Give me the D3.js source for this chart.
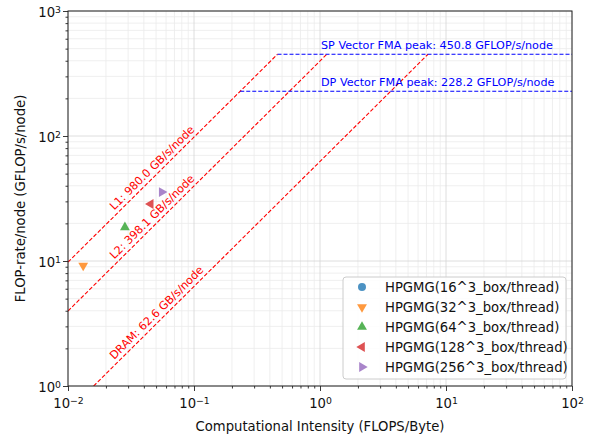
<!DOCTYPE html>
<html>
<head>
<meta charset="utf-8">
<script src="https://cdn.jsdelivr.net/npm/d3@7"></script>
<style>
body { margin: 0; background: #fff; }
text { font-family: "DejaVu Sans", sans-serif; }
</style>
</head>
<body>
<svg id="chart" width="595" height="438"></svg>
<script>
// data
var seriesNames = ["HPGMG(16^3_box/thread)", "HPGMG(32^3_box/thread)", "HPGMG(64^3_box/thread)",
                   "HPGMG(128^3_box/thread)", "HPGMG(256^3_box/thread)"];
var intensity = [null, 0.0132, 0.0283, 0.0453, 0.0555];
var flopRate  = [null, 9.2, 18.6, 28.6, 35.6];
var memNames = ["L1", "L2", "DRAM"];
var memBandwidth = [980.0, 398.1, 62.6];
var peakNames = ["SP Vector FMA", "DP Vector FMA"];
var peakRates = [450.8, 228.2];
var xTicks = [1e-2, 1e-1, 1e0, 1e1, 1e2];
var yTicks = [1e0, 1e1, 1e2, 1e3];

var colors = ["#1f77b4", "#ff7f0e", "#2ca02c", "#d62728", "#9467bd"];
var symbols = [d3.symbolCircle, d3.symbolTriangle, d3.symbolTriangle, d3.symbolTriangle, d3.symbolTriangle];
var rotations = [0, 180, 0, -90, 90];

var pLeft = 68, pRight = 572, pTop = 11, pBottom = 386;
var fs = "13.2px";
var svg = d3.select("#chart");

var xScale = d3.scaleLog().domain([1e-2, 1e2]).range([pLeft, pRight]);
var yScale = d3.scaleLog().domain([1e0, 1e3]).range([pBottom, pTop]);

function minors(ticks) {
  var out = [];
  for (var i = 0; i < ticks.length - 1; i++)
    for (var k = 2; k < 10; k++) out.push(ticks[i] * k);
  return out;
}
var xMinor = minors(xTicks), yMinor = minors(yTicks);

// grid
var grid = svg.append("g");
grid.selectAll(".xm").data(xMinor).enter().append("line")
    .attr("x1", d => xScale(d)).attr("x2", d => xScale(d))
    .attr("y1", pTop).attr("y2", pBottom)
    .attr("stroke", "#ebebeb").attr("stroke-width", 0.8);
grid.selectAll(".ym").data(yMinor).enter().append("line")
    .attr("y1", d => yScale(d)).attr("y2", d => yScale(d))
    .attr("x1", pLeft).attr("x2", pRight)
    .attr("stroke", "#ebebeb").attr("stroke-width", 0.8);
grid.selectAll(".xM").data(xTicks).enter().append("line")
    .attr("x1", d => xScale(d)).attr("x2", d => xScale(d))
    .attr("y1", pTop).attr("y2", pBottom)
    .attr("stroke", "#d6d6d6").attr("stroke-width", 0.8);
grid.selectAll(".yM").data(yTicks).enter().append("line")
    .attr("y1", d => yScale(d)).attr("y2", d => yScale(d))
    .attr("x1", pLeft).attr("x2", pRight)
    .attr("stroke", "#d6d6d6").attr("stroke-width", 0.8);

// clip for the roof lines
svg.append("clipPath").attr("id", "plotclip")
  .append("rect").attr("x", pLeft).attr("y", pTop)
    .attr("width", pRight - pLeft).attr("height", pBottom - pTop);
var plot = svg.append("g").attr("clip-path", "url(#plotclip)");

var line = d3.line().x(d => xScale(d[0])).y(d => yScale(d[1]));
var xMin = 1e-2, xMax = 1e2;

// memory roofs: from xMin up to the SP peak
memBandwidth.forEach(function(bw) {
  var ridge = peakRates[0] / bw;
  plot.append("path")
      .attr("d", line([[xMin, bw * xMin], [ridge, peakRates[0]]]))
      .attr("fill", "none").attr("stroke", "#ff0000")
      .attr("stroke-width", 1.1).attr("stroke-dasharray", "4,2");
});

// compute roofs: from the L1 ridge to xMax
peakRates.forEach(function(p) {
  var ridge = p / memBandwidth[0];
  plot.append("path")
      .attr("d", line([[ridge, p], [xMax, p]]))
      .attr("fill", "none").attr("stroke", "#0000ff")
      .attr("stroke-width", 1.1).attr("stroke-dasharray", "4,2");
});

// roof labels
peakRates.forEach(function(p, i) {
  svg.append("text")
      .attr("x", xScale(1) + 1).attr("y", yScale(p) - 5)
      .attr("font-size", "11.2px").attr("fill", "#0000ff")
      .text(peakNames[i] + " peak: " + p.toFixed(1) + " GFLOP/s/node");
});

var angle = Math.atan2(yScale(10) - yScale(100), xScale(1) - xScale(0.1)) * 180 / Math.PI;
memBandwidth.forEach(function(bw, i) {
  var x0 = 0.0245;
  var px = xScale(x0), py = yScale(bw * x0);
  svg.append("text")
      .attr("transform", "translate(" + px + "," + py + ") rotate(" + (-angle) + ")")
      .attr("y", -4)
      .attr("font-size", "11.2px").attr("fill", "#ff0000")
      .text(memNames[i] + ": " + bw.toFixed(1) + " GB/s/node");
});

// data points
seriesNames.forEach(function(name, i) {
  if (intensity[i] === null) return;
  svg.append("path")
      .attr("d", d3.symbol().type(symbols[i]).size(i === 0 ? 50 : 42)())
      .attr("transform", "translate(" + xScale(intensity[i]) + "," + yScale(flopRate[i]) +
            ") rotate(" + rotations[i] + ")")
      .attr("fill", colors[i]).attr("fill-opacity", 0.8);
});

// axes
function supLabel(sel) {
  sel.each(function(d) {
    var t = d3.select(this).text("");
    var e = Math.round(Math.log10(d));
    t.append("tspan").text("10");
    t.append("tspan").attr("dy", "-0.45em").attr("font-size", "9.3px")
        .text(e < 0 ? "\u2212" + (-e) : e);
  });
}

var xAxis = d3.axisBottom(xScale).tickValues(xTicks).tickSize(5).tickSizeOuter(0).tickFormat(d => d);
var xAxisMinor = d3.axisBottom(xScale).tickValues(xMinor).tickSize(2.5).tickSizeOuter(0).tickFormat("");
var yAxis = d3.axisLeft(yScale).tickValues(yTicks).tickSize(5).tickSizeOuter(0).tickFormat(d => d);
var yAxisMinor = d3.axisLeft(yScale).tickValues(yMinor).tickSize(2.5).tickSizeOuter(0).tickFormat("");

var gx = svg.append("g").attr("transform", "translate(0," + pBottom + ")").call(xAxis);
svg.append("g").attr("transform", "translate(0," + pBottom + ")").call(xAxisMinor);
var gy = svg.append("g").attr("transform", "translate(" + pLeft + ",0)").call(yAxis);
svg.append("g").attr("transform", "translate(" + pLeft + ",0)").call(yAxisMinor);

svg.selectAll(".domain").remove();
svg.selectAll(".tick line").attr("stroke", "#222").attr("stroke-width", 0.9);
gx.selectAll(".tick text").attr("font-size", fs).attr("fill", "#111")
    .attr("y", 10).attr("dy", "0.9em").call(supLabel);
gy.selectAll(".tick text").attr("font-size", fs).attr("fill", "#111")
    .attr("x", -7).attr("dy", "0.4em").call(supLabel);

// frame
svg.append("rect").attr("x", pLeft).attr("y", pTop)
    .attr("width", pRight - pLeft).attr("height", pBottom - pTop)
    .attr("fill", "none").attr("stroke", "#222").attr("stroke-width", 1);

// axis titles
svg.append("text")
    .attr("x", (pLeft + pRight) / 2).attr("y", 431)
    .attr("text-anchor", "middle").attr("font-size", fs).attr("fill", "#111")
    .text("Computational Intensity (FLOPS/Byte)");
svg.append("text")
    .attr("transform", "rotate(-90)")
    .attr("x", -(pTop + pBottom) / 2).attr("y", 25)
    .attr("text-anchor", "middle").attr("font-size", fs).attr("fill", "#111")
    .text("FLOP-rate/node (GFLOP/s/node)");

// legend
var lg = svg.append("g").attr("transform", "translate(343,277)");
lg.append("rect").attr("width", 223).attr("height", 102).attr("rx", 3)
    .attr("fill", "#fff").attr("fill-opacity", 0.85)
    .attr("stroke", "#cccccc").attr("stroke-width", 1);
seriesNames.forEach(function(name, i) {
  var yy = 10 + i * 20;
  lg.append("path")
      .attr("d", d3.symbol().type(symbols[i]).size(i === 0 ? 50 : 42)())
      .attr("transform", "translate(19," + yy + ") rotate(" + rotations[i] + ")")
      .attr("fill", colors[i]).attr("fill-opacity", 0.8);
  lg.append("text").attr("x", 42).attr("y", yy).attr("dy", "0.36em")
      .attr("font-size", fs).attr("fill", "#111").text(name);
});
</script>
</body>
</html>
